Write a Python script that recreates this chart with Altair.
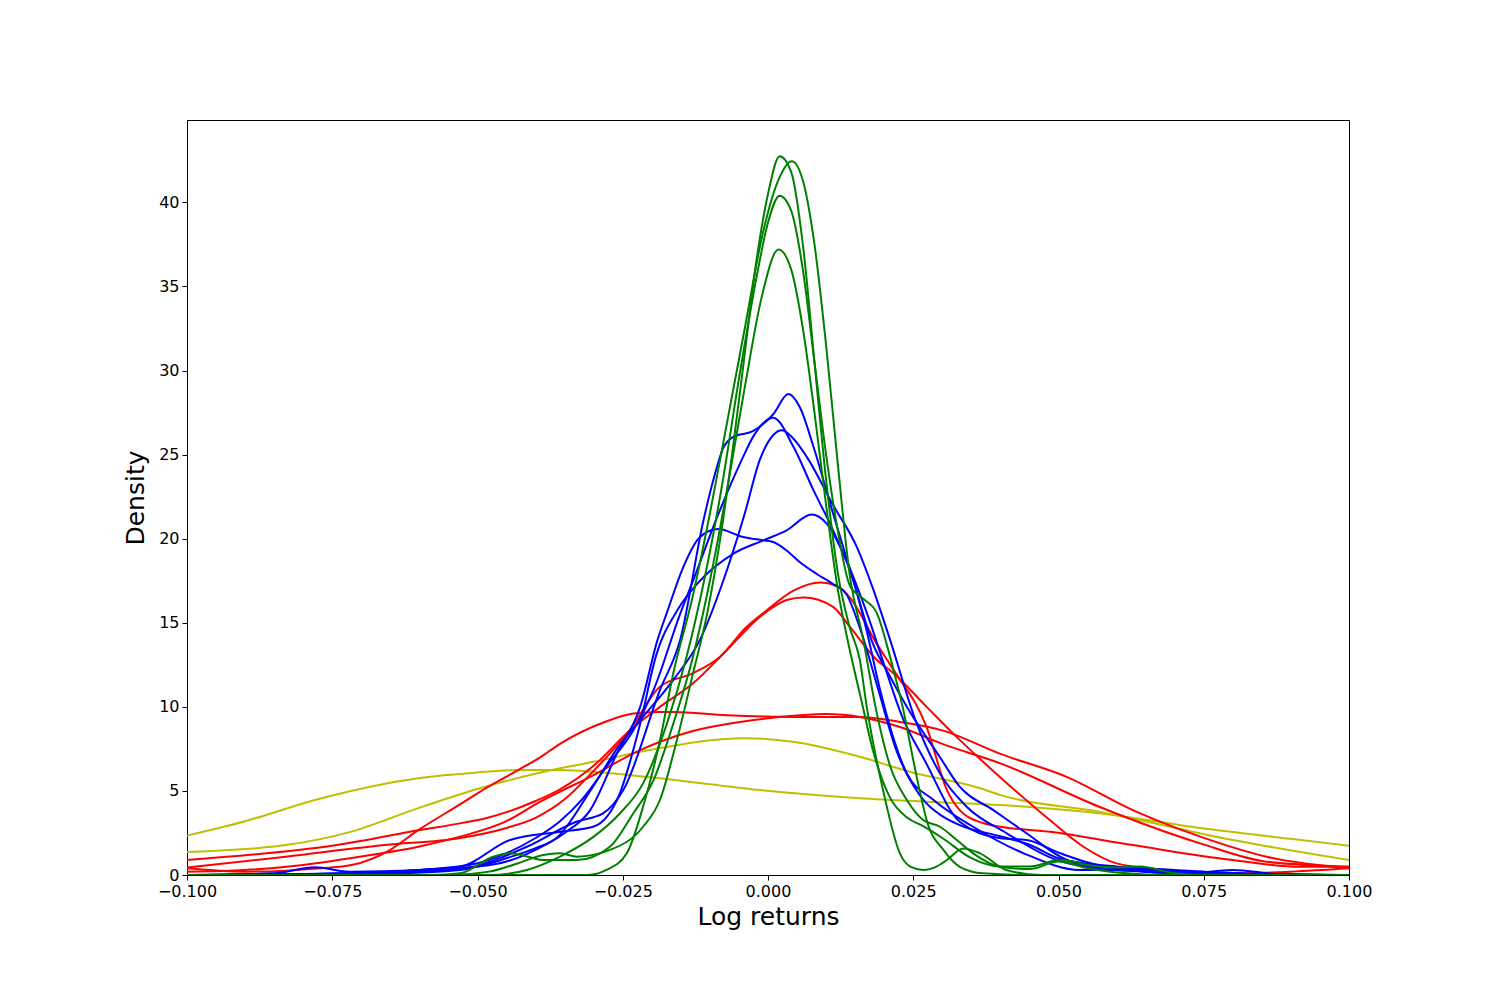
import altair as alt
import pandas as pd

# ---------------- data ----------------
# yellow curves
y1_x = [-0.1, -0.09, -0.0775, -0.0602, -0.05, -0.043, -0.0358, -0.0286, -0.0186, -0.01, -0.0014, 0.0158, 0.0273, 0.04, 0.057, 0.0744, 0.09, 0.1]
y1_y = [2.34, 3.2, 4.5, 5.75, 6.1, 6.24, 6.24, 6.1, 5.75, 5.4, 5.05, 4.57, 4.36, 4.16, 3.67, 2.8, 2.15, 1.74]
y2_x = [-0.1, -0.083, -0.0717, -0.0602, -0.0487, -0.0372, -0.03, -0.0186, -0.0043, 0.0043, 0.0158, 0.0244, 0.0365, 0.04, 0.057, 0.08, 0.1]
y2_y = [1.37, 1.78, 2.58, 3.98, 5.25, 6.24, 6.73, 7.55, 8.14, 7.92, 7.03, 6.14, 5.16, 4.75, 3.76, 2.08, 0.89]

# red curves
r1_x = [-0.1, -0.083, -0.066, -0.053, -0.045, -0.04, -0.035, -0.03, -0.0238, -0.0186, -0.0129, -0.0083, -0.0037, -0.0002, 0.0043, 0.009, 0.0118, 0.0141, 0.0187, 0.0216, 0.0273, 0.0308, 0.033, 0.037, 0.04, 0.0485, 0.0628, 0.08, 0.0916, 0.1]
r1_y = [0.45, 1.09, 1.78, 2.2, 2.8, 3.4, 4.5, 6.2, 8.6, 11.2, 12.0, 12.97, 14.75, 15.75, 16.9, 17.4, 17.2, 16.5, 13.76, 12.2, 8.8, 5.05, 3.86, 3.09, 2.87, 2.57, 1.78, 0.89, 0.49, 0.49]
r2_x = [-0.1, -0.0742, -0.0599, -0.053, -0.0484, -0.04, -0.0358, -0.03, -0.0238, -0.0186, -0.0129, -0.0071, -0.0014, 0.0032, 0.0061, 0.0112, 0.0141, 0.0187, 0.0216, 0.0273, 0.0325, 0.0365, 0.04, 0.0485, 0.0543, 0.06, 0.0686, 0.08, 0.09, 0.1]
r2_y = [0.89, 1.78, 2.67, 3.07, 3.39, 4.4, 5.1, 6.5, 8.6, 10.0, 11.4, 13.37, 15.35, 16.35, 16.5, 15.95, 14.75, 12.8, 12.0, 10.0, 8.2, 6.9, 5.8, 3.27, 1.68, 0.69, 0.3, 0.1, 0.2, 0.4]
r3_x = [-0.1, -0.09, -0.083, -0.077, -0.0717, -0.065, -0.0602, -0.053, -0.0484, -0.043, -0.0392, -0.0358, -0.0281, -0.0232, -0.0186, -0.0163, -0.0071, 0.0043, 0.0158, 0.0227, 0.03, 0.04, 0.0514, 0.0628, 0.0744, 0.0858, 0.1]
r3_y = [0.4, 0.2, 0.26, 0.4, 0.59, 1.5, 2.67, 4.2, 5.2, 6.24, 7.0, 7.8, 9.1, 9.6, 9.7, 9.7, 9.5, 9.4, 9.4, 9.1, 8.6, 7.2, 5.84, 3.86, 2.28, 1.09, 0.4]
r4_x = [-0.1, -0.09, -0.08, -0.07, -0.06, -0.053, -0.045, -0.0392, -0.0306, -0.022, -0.0134, -0.0048, 0.0055, 0.0101, 0.0158, 0.0227, 0.03, 0.04, 0.057, 0.0744, 0.0858, 0.1]
r4_y = [0.2, 0.3, 0.6, 1.1, 1.7, 2.28, 3.2, 4.36, 5.84, 7.43, 8.52, 9.1, 9.5, 9.57, 9.4, 8.8, 7.8, 6.64, 4.06, 1.88, 0.79, 0.49]

# blue curves
b1_x = [-0.1, -0.065, -0.053, -0.047, -0.0415, -0.033, -0.0284, -0.0249, -0.0186, -0.0151, -0.0111, -0.0094, -0.0077, -0.006, -0.0026, 0.0009, 0.0035, 0.0055, 0.0078, 0.0112, 0.0147, 0.018, 0.021, 0.0239, 0.0296, 0.033, 0.0388, 0.0445, 0.0503, 0.056, 0.065, 0.072, 0.08, 0.088, 0.1]
b1_y = [0.0, 0.1, 0.3, 0.9, 1.68, 3.17, 3.66, 5.05, 11.0, 14.0, 21.1, 23.5, 25.4, 26.05, 26.4, 27.4, 28.6, 27.8, 25.5, 21.5, 17.5, 13.8, 11.8, 10.0, 7.0, 5.25, 3.86, 2.48, 1.09, 0.4, 0.2, 0.1, 0.3, 0.05, 0.0]
b2_x = [-0.1, -0.07, -0.06, -0.05, -0.045, -0.04, -0.0358, -0.032, -0.0278, -0.0232, -0.0197, -0.0151, -0.0129, -0.0085, -0.0045, -0.0025, 0.0009, 0.0044, 0.0078, 0.0112, 0.0147, 0.017, 0.0193, 0.0239, 0.0285, 0.0353, 0.044, 0.0537, 0.06, 0.07, 0.1]
b2_y = [0.0, 0.1, 0.3, 0.7, 1.3, 2.2, 3.2, 4.5, 6.44, 8.6, 11.0, 15.55, 17.5, 21.5, 24.7, 26.1, 27.2, 25.45, 22.9, 20.5, 17.5, 14.5, 11.0, 6.04, 4.46, 2.87, 1.29, 0.3, 0.3, 0.1, 0.0]
b3_x = [-0.1, -0.06, -0.05, -0.045, -0.04, -0.0364, -0.0306, -0.026, -0.022, -0.0163, -0.0117, -0.0077, -0.004, -0.0014, 0.001, 0.0024, 0.0045, 0.0067, 0.0112, 0.0153, 0.0181, 0.021, 0.0256, 0.0296, 0.0342, 0.0411, 0.0497, 0.055, 0.06, 0.065, 0.075, 0.1]
b3_y = [0.0, 0.2, 0.5, 1.0, 1.6, 2.2, 5.0, 7.5, 9.2, 11.6, 14.0, 17.5, 21.5, 24.7, 26.2, 26.45, 25.9, 24.85, 22.0, 19.5, 17.0, 14.0, 9.0, 6.04, 4.06, 2.48, 0.89, 0.5, 0.4, 0.2, 0.1, 0.0]
b4_x = [-0.1, -0.07, -0.06, -0.053, -0.0444, -0.0358, -0.0301, -0.0255, -0.022, -0.0193, -0.0155, -0.0117, -0.006, -0.0008, 0.0032, 0.0075, 0.0101, 0.0135, 0.017, 0.02, 0.023, 0.027, 0.033, 0.04, 0.0445, 0.0503, 0.058, 0.065, 0.075, 0.085, 0.1]
b4_y = [0.0, 0.1, 0.3, 0.49, 2.08, 2.57, 2.87, 4.86, 9.0, 13.0, 15.8, 17.5, 19.1, 19.9, 20.5, 21.44, 20.9, 18.7, 15.6, 12.5, 9.5, 6.8, 3.17, 2.18, 2.08, 1.29, 0.5, 0.3, 0.2, 0.05, 0.0]
b5_x = [-0.1, -0.085, -0.078, -0.072, -0.06, -0.05, -0.045, -0.04, -0.035, -0.0306, -0.026, -0.022, -0.019, -0.0174, -0.0146, -0.0117, -0.0086, -0.0043, -0.0008, 0.0009, 0.0032, 0.0055, 0.0084, 0.0112, 0.0135, 0.016, 0.019, 0.022, 0.026, 0.03, 0.033, 0.04, 0.045, 0.05, 0.06, 0.07, 0.08, 0.1]
b5_y = [0.0, 0.1, 0.46, 0.2, 0.3, 0.5, 0.8, 1.5, 2.5, 3.86, 7.23, 10.0, 14.0, 15.6, 18.3, 20.1, 20.57, 20.1, 19.9, 19.8, 19.3, 18.6, 17.9, 17.3, 16.7, 14.5, 11.0, 7.5, 4.8, 3.5, 2.97, 2.3, 1.8, 1.0, 0.5, 0.3, 0.1, 0.0]

# green curves
g1_x = [-0.1, -0.055, -0.048, -0.043, -0.0387, -0.0358, -0.0329, -0.0272, -0.0215, -0.0186, -0.0157, -0.0129, -0.0105, -0.008, -0.006, -0.004, -0.002, 0.0, 0.002, 0.004, 0.006, 0.008, 0.01, 0.012, 0.014, 0.0158, 0.017, 0.0198, 0.0227, 0.0245, 0.0267, 0.029, 0.0308, 0.0336, 0.0365, 0.041, 0.047, 0.1]
g1_y = [0.0, 0.0, 0.2, 0.7, 1.19, 1.29, 1.09, 1.49, 2.87, 4.46, 8.0, 12.0, 15.5, 20.5, 25.5, 31.0, 36.5, 40.5, 42.75, 41.8, 37.5, 30.5, 23.5, 18.0, 14.8, 12.8, 10.0, 5.05, 1.29, 0.5, 0.3, 0.5, 0.89, 1.58, 1.29, 0.3, 0.0, 0.0]
g2_x = [-0.1, -0.031, -0.0278, -0.0243, -0.0215, -0.0186, -0.0163, -0.013, -0.01, -0.007, -0.004, -0.001, 0.002, 0.0041, 0.006, 0.008, 0.01, 0.012, 0.014, 0.0164, 0.0185, 0.021, 0.0239, 0.0267, 0.0296, 0.0325, 0.0353, 0.04, 0.045, 0.05, 0.055, 0.06, 0.07, 0.1]
g2_y = [0.0, 0.0, 0.3, 1.29, 4.06, 8.0, 12.0, 16.5, 21.5, 27.0, 32.5, 38.0, 41.5, 42.45, 41.3, 37.5, 31.5, 24.5, 18.0, 14.0, 10.0, 6.5, 4.46, 3.27, 2.87, 2.08, 1.29, 0.49, 0.35, 0.8, 0.4, 0.15, 0.0, 0.0]
g3_x = [-0.1, -0.048, -0.0415, -0.0358, -0.03, -0.0255, -0.0215, -0.0174, -0.014, -0.011, -0.008, -0.005, -0.002, 0.0, 0.002, 0.004, 0.006, 0.008, 0.01, 0.012, 0.0141, 0.0165, 0.0187, 0.0204, 0.0216, 0.0233, 0.025, 0.0262, 0.0273, 0.0302, 0.033, 0.037, 0.045, 0.1]
g3_y = [0.0, 0.0, 0.3, 1.09, 2.28, 3.66, 5.45, 9.0, 13.0, 17.5, 23.0, 29.5, 35.5, 38.8, 40.4, 39.5, 36.0, 30.5, 25.0, 20.5, 17.2, 16.4, 15.6, 13.76, 12.2, 9.8, 6.84, 4.86, 3.27, 1.49, 0.49, 0.1, 0.0, 0.0]
g4_x = [-0.1, -0.058, -0.053, -0.0473, -0.0444, -0.0415, -0.0387, -0.0329, -0.0272, -0.0232, -0.0197, -0.0163, -0.0129, -0.01, -0.007, -0.004, -0.001, 0.0018, 0.004, 0.006, 0.008, 0.01, 0.012, 0.014, 0.016, 0.018, 0.021, 0.024, 0.0267, 0.03, 0.035, 0.04, 0.045, 0.0503, 0.055, 0.06, 0.064, 0.07, 0.075, 0.1]
g4_y = [0.0, 0.0, 0.1, 1.09, 1.29, 1.1, 0.89, 0.89, 1.68, 3.66, 5.64, 9.0, 13.0, 17.5, 23.0, 29.0, 34.5, 37.2, 36.0, 32.5, 27.5, 22.0, 17.0, 13.5, 10.5, 7.5, 4.6, 3.4, 2.9, 2.2, 1.0, 0.5, 0.5, 0.9, 0.6, 0.45, 0.5, 0.1, 0.0, 0.0]

x_ticks = [-0.1, -0.075, -0.05, -0.025, 0.0, 0.025, 0.05, 0.075, 0.1]
y_ticks = [0, 5, 10, 15, 20, 25, 30, 35, 40]

groups = ["yellow", "red", "blue", "green"]
group_colors = ["#bfbf00", "#ff0000", "#0000ff", "#008000"]

curves = [
    ("y1", "yellow", y1_x, y1_y), ("y2", "yellow", y2_x, y2_y),
    ("r1", "red", r1_x, r1_y), ("r2", "red", r2_x, r2_y),
    ("r3", "red", r3_x, r3_y), ("r4", "red", r4_x, r4_y),
    ("b1", "blue", b1_x, b1_y), ("b2", "blue", b2_x, b2_y),
    ("b3", "blue", b3_x, b3_y), ("b4", "blue", b4_x, b4_y),
    ("b5", "blue", b5_x, b5_y),
    ("g1", "green", g1_x, g1_y), ("g2", "green", g2_x, g2_y),
    ("g3", "green", g3_x, g3_y), ("g4", "green", g4_x, g4_y),
]

rows = []
for name, grp, xs, ys in curves:
    for xv, yv in zip(xs, ys):
        rows.append({"series": name, "group": grp, "x": xv, "y": yv})
df = pd.DataFrame(rows)

font = "DejaVu Sans"

chart = alt.Chart(df).mark_line(strokeWidth=2, interpolate="monotone", clip=True).encode(
    x=alt.X("x:Q",
            scale=alt.Scale(domain=[-0.1, 0.1], nice=False, zero=False),
            axis=alt.Axis(values=x_ticks, format=".3f", title="Log returns",
                          labelFlush=False, labelOverlap=False, titlePadding=5)),
    y=alt.Y("y:Q",
            scale=alt.Scale(domain=[0, 44.9], nice=False, zero=False),
            axis=alt.Axis(values=y_ticks, format="d", title="Density", titlePadding=10)),
    color=alt.Color("group:N", scale=alt.Scale(domain=groups, range=group_colors), legend=None),
    detail="series:N",
).properties(
    width=1162, height=755,
    autosize=alt.AutoSizeParams(type="none"),
    padding={"left": 179, "top": 112, "right": 140, "bottom": 110},
).configure_view(
    stroke="black", strokeWidth=1
).configure_axis(
    grid=False, domainColor="black", domainWidth=1, tickColor="black", tickSize=5,
    tickWidth=1, labelColor="black", labelFont=font, labelFontSize=16, labelPadding=3,
    titleFont=font, titleFontSize=25, titleFontWeight="normal", titleColor="black",
)

chart.save("out.html", embed_options={"renderer": "svg", "actions": False})
